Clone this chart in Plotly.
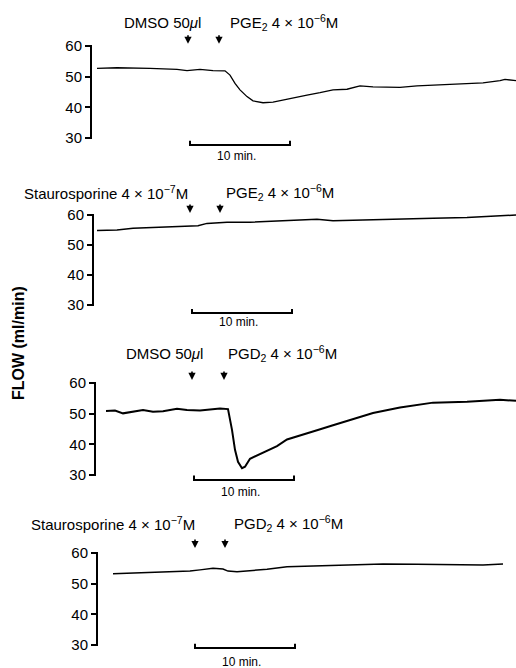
import plotly.graph_objects as go

W, H = 516, 668
FONT = "Liberation Sans, Arial, Helvetica, sans-serif"

# ---------------- data (time in min from the y-axis line, flow in ml/min) -------------
t1 = [0.6, 2.6, 5.9, 8.6, 9.6, 10.9, 12.2, 13.4, 13.9, 14.4, 14.9, 15.6, 16.2, 17.2,
      18.2, 19.2, 20.2, 21.6, 22.9, 24.2, 25.6, 26.9, 28.2, 29.6, 30.9, 32.6, 34.2,
      35.9, 37.6, 39.2, 40.9, 41.4, 42.5]
f1 = [52.7, 52.9, 52.7, 52.4, 52.0, 52.4, 52.0, 51.9, 50.5, 47.8, 45.7, 43.5, 42.1,
      41.5, 41.7, 42.4, 43.2, 44.0, 44.8, 45.7, 45.9, 47.0, 46.7, 46.5, 46.5, 47.0,
      47.3, 47.5, 47.8, 48.0, 48.7, 49.1, 48.7]

t2 = [0.4, 2.4, 4.0, 5.7, 7.4, 9.4, 10.5, 11.4, 13.4, 15.7, 19.0, 22.4, 24.0, 27.4,
      30.7, 34.0, 37.4, 40.7, 42.3]
f2 = [54.8, 55.0, 55.6, 55.8, 56.1, 56.4, 56.4, 57.2, 57.6, 57.6, 58.0, 58.6, 58.1,
      58.3, 58.6, 58.9, 59.2, 59.7, 60.0]

t3 = [1.1, 2.0, 2.8, 3.8, 4.8, 5.8, 6.8, 8.2, 9.2, 10.5, 11.5, 12.5, 13.3, 13.7, 14.0,
      14.3, 14.7, 15.0, 15.5, 16.2, 17.2, 18.2, 19.2, 20.5, 22.2, 23.8, 25.8, 27.8,
      30.5, 33.8, 37.2, 40.5, 42.1]
f3 = [50.9, 51.0, 50.1, 50.6, 51.2, 50.6, 50.8, 51.6, 51.2, 51.0, 51.4, 51.7, 51.5,
      44.7, 38.2, 34.3, 32.2, 32.7, 35.3, 36.4, 37.8, 39.4, 41.6, 42.8, 44.6, 46.2,
      48.3, 50.2, 52.0, 53.6, 53.9, 54.5, 54.2]

t4 = [1.6, 3.6, 5.3, 7.6, 9.3, 10.3, 11.6, 12.6, 13.1, 14.0, 15.3, 17.0, 19.0, 22.0,
      25.3, 28.6, 32.0, 35.3, 38.6, 40.6]
f4 = [53.2, 53.4, 53.7, 53.9, 54.1, 54.5, 55.0, 54.8, 54.1, 53.9, 54.2, 54.7, 55.5,
      55.8, 56.1, 56.4, 56.3, 56.3, 56.1, 56.4]

times = [t1, t2, t3, t4]
flows = [f1, f2, f3, f4]

left_labels = ["DMSO 50<i>μ</i>l", "Staurosporine 4 × 10<sup>−7</sup>M",
               "DMSO 50<i>μ</i>l", "Staurosporine 4 × 10<sup>−7</sup>M"]
right_labels = ["PGE<sub>2</sub> 4 × 10<sup>−6</sup>M", "PGE<sub>2</sub> 4 × 10<sup>−6</sup>M",
                "PGD<sub>2</sub> 4 × 10<sup>−6</sup>M", "PGD<sub>2</sub> 4 × 10<sup>−6</sup>M"]
pretreat_times = [9.7, 9.7, 9.7, 9.8]
agonist_times = [12.8, 12.7, 12.9, 12.8]
ytick_vals = [30, 40, 50, 60]
scale_start = [9.9, 9.9, 9.9, 9.8]
scale_len = 10
scale_label = "10 min."
y_title = "FLOW (ml/min)"

# ---------------- layout geometry (pixels) ----------------
spine_px = [91, 93, 95, 97]
y60_px = [46, 215, 383, 553]
y30_px = [138, 305, 475, 645]
left_lab_cx = [162, 106, 164, 113]
right_lab_cx = [284, 280, 282, 288]
label_cy = [23, 192, 353, 523]
arrow_tip_y = [60.7, 60.7, 61.0, 61.6]
scale_y = [27.7, 27.3, 28.4, 29.0]
scale_text_cy = [156, 322, 492, 662]
line_w = [1.3, 1.5, 2.0, 1.5]

fig = go.Figure()
layout = dict(width=W, height=H, margin=dict(l=0, r=0, t=0, b=0),
              paper_bgcolor="white", plot_bgcolor="white", showlegend=False,
              font=dict(family=FONT, color="black"))
annotations = []
shapes = []
PAD = 6
XPAD = 0.6

for k in range(4):
    sfx = "" if k == 0 else str(k + 1)
    xa, ya = "x" + sfx, "y" + sfx
    s = (y30_px[k] - y60_px[k]) / 30.0  # px per unit
    top = y60_px[k] - PAD * s
    bot = y30_px[k] + PAD * s
    layout["xaxis" + sfx] = dict(domain=[(spine_px[k] - XPAD * 10) / W, 1],
                                 range=[-XPAD, (W - spine_px[k]) / 10.0],
                                 visible=False, anchor=ya)
    layout["yaxis" + sfx] = dict(domain=[1 - bot / H, 1 - top / H],
                                 range=[30 - PAD, 60 + PAD], anchor="free",
                                 position=spine_px[k] / W,
                                 tickvals=ytick_vals, ticks="outside", ticklen=6,
                                 tickwidth=2, tickcolor="black", showline=False,
                                 showgrid=False, zeroline=False,
                                 tickfont=dict(size=15, family=FONT, color="black"))
    fig.add_trace(go.Scatter(x=times[k], y=flows[k], mode="lines", xaxis=xa, yaxis=ya,
                             line=dict(color="black", width=line_w[k]),
                             hoverinfo="skip"))
    # spine
    shapes.append(dict(type="line", xref=xa, yref=ya, x0=0, x1=0, y0=29.7, y1=60.3,
                       line=dict(color="black", width=2)))
    # scale bar
    x0, x1, yb = scale_start[k], scale_start[k] + scale_len, scale_y[k]
    shapes.append(dict(type="path", xref=xa, yref=ya,
                       path=f"M {x0},{yb + 1.4} L {x0},{yb} L {x1},{yb} L {x1},{yb + 1.4}",
                       line=dict(color="black", width=2)))
    annotations.append(dict(text=scale_label, xref=xa, yref="paper",
                            x=x0 + scale_len / 2 - 0.4, y=1 - scale_text_cy[k] / H,
                            showarrow=False, xanchor="center", yanchor="middle",
                            font=dict(size=12, family=FONT, color="black")))
    # arrows
    for tx in (pretreat_times[k], agonist_times[k]):
        annotations.append(dict(text="", xref=xa, yref=ya, x=tx, y=arrow_tip_y[k],
                                showarrow=True, arrowhead=2, arrowsize=0.9,
                                arrowwidth=1.6, arrowcolor="black", ax=0, ay=-10))
    # labels
    annotations.append(dict(text=left_labels[k], xref="paper", yref="paper",
                            x=left_lab_cx[k] / W, y=1 - label_cy[k] / H, showarrow=False,
                            xanchor="center", yanchor="middle",
                            font=dict(size=15, family=FONT, color="black")))
    annotations.append(dict(text=right_labels[k], xref="paper", yref="paper",
                            x=right_lab_cx[k] / W, y=1 - label_cy[k] / H, showarrow=False,
                            xanchor="center", yanchor="middle",
                            font=dict(size=15, family=FONT, color="black")))

annotations.append(dict(text="<b>" + y_title + "</b>", xref="paper", yref="paper",
                        x=18.5 / W, y=1 - 343.5 / H, textangle=-90, showarrow=False,
                        xanchor="center", yanchor="middle",
                        font=dict(size=16, family=FONT, color="black")))

layout["annotations"] = annotations
layout["shapes"] = shapes
fig.update_layout(**layout)
fig.write_html("out.html")
